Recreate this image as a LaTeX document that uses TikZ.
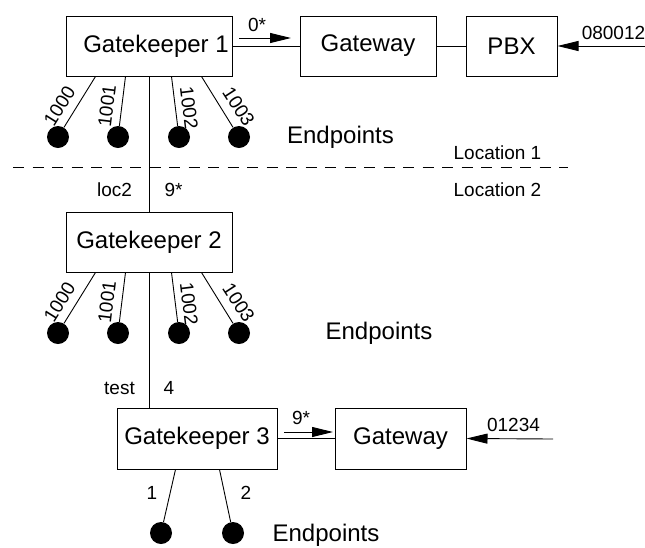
\documentclass[tikz,border=0pt]{standalone}
\usepackage{fontspec}
\setmainfont{Liberation Sans}
\usetikzlibrary{arrows.meta,calc}
\begin{document}
\begin{tikzpicture}[x=1pt,y=-1pt,
  box/.style={draw, line width=1pt, inner sep=0pt, font=\fontsize{24}{28}\selectfont},
  lbl/.style={inner sep=0pt, font=\fontsize{19}{22}\selectfont},
  big/.style={inner sep=0pt, font=\fontsize{24}{28}\selectfont},
  ep/.style={circle, fill=black, minimum size=22pt, inner sep=0pt},
  wire/.style={line width=0.9pt},
  flow/.style={line width=0.9pt, -{Triangle[length=21pt,width=10pt]}}]
\useasboundingbox (0,0) rectangle (645,547);

% ---- Location 1 ----
\node[box, minimum width=166pt, minimum height=60pt] (gk1) at (149,46) {\hspace*{14pt}Gatekeeper 1};
\node[box, minimum width=136pt, minimum height=60pt] (gw1) at (368,46) {Gateway};
\node[box, minimum width=91pt, minimum height=60pt] (pbx) at (511.5,46) {PBX};

\draw[wire] (gk1) -- (gw1);
\draw[wire] (gw1) -- (pbx);
\coordinate (a1s) at (239,38);
\coordinate (a1e) at (291,38);
\draw[flow] (a1s) -- (a1e);
\node[lbl] (l0) at (257,25) {0*};
\coordinate (in1) at (646,46);
\draw[flow] (in1) -- (pbx.east);
\node[lbl] (lin1) at (613.5,33) {080012};

% endpoints of gatekeeper 1
\foreach \i/\ox/\cx in {1/30/58, 2/60/118, 3/106/179, 4/136/239} {
  \coordinate (p1\i) at ($(gk1.south west)+(\ox,0)$);
  \node[ep] (e1\i) at (\cx,137) {};
  \draw[wire] (p1\i) -- (e1\i);
}
\node[lbl, rotate=58] (n11) at (59.5,106) {1000};
\node[lbl, rotate=83] (n12) at (107,106) {1001};
\node[lbl, rotate=-83] (n13) at (189,108) {1002};
\node[lbl, rotate=-57] (n14) at (238.5,106.5) {1003};
\node[big] (ept1) at (340.5,137) {Endpoints};

% ---- boundary between locations ----
\coordinate (d1) at (13,167);
\coordinate (d2) at (568,167);
\draw[wire, dash pattern=on 11pt off 8.5pt] (d1) -- (d2);
\node[lbl] (loc1) at (497.5,153) {Location 1};
\node[lbl] (loc2) at (497.5,190) {Location 2};

% ---- Location 2 ----
\node[box, minimum width=166pt, minimum height=60pt] (gk2) at (149,242) {Gatekeeper 2};
\draw[wire] (gk1.south) -- (gk2.north);
\node[lbl] (tloc2) at (114.5,190) {loc2};
\node[lbl] (t9) at (173.5,190) {9*};

\foreach \i/\ox/\cx in {1/30/58, 2/60/118, 3/106/179, 4/136/239} {
  \coordinate (p2\i) at ($(gk2.south west)+(\ox,0)$);
  \node[ep] (e2\i) at (\cx,333) {};
  \draw[wire] (p2\i) -- (e2\i);
}
\node[lbl, rotate=58] (n21) at (59.5,302) {1000};
\node[lbl, rotate=83] (n22) at (107,302) {1001};
\node[lbl, rotate=-83] (n23) at (189,304) {1002};
\node[lbl, rotate=-57] (n24) at (238.5,302.5) {1003};
\node[big] (ept2) at (379,333) {Endpoints};

\node[box, minimum width=160pt, minimum height=61pt] (gk3) at (197,438.5) {Gatekeeper 3};
\node[box, minimum width=131pt, minimum height=61pt] (gw2) at (400.5,438.5) {Gateway};
\draw[wire] (gk2.south) -- (gk2.south |- gk3.north);
\node[lbl] (ttest) at (119.5,388) {test};
\node[lbl] (t4) at (169,388) {4};

\draw[wire] (gk3) -- (gw2);
\coordinate (a2s) at (284,432);
\coordinate (a2e) at (333,432);
\draw[flow] (a2s) -- (a2e);
\node[lbl] (l9) at (301,418) {9*};
\coordinate (in2) at (553,439);
\draw[flow] (in2) -- (gw2.east);
\node[lbl] (lin2) at (513.5,425) {01234};

\coordinate (p31) at ($(gk3.south west)+(59,0)$);
\coordinate (p32) at ($(gk3.south west)+(103,0)$);
\node[ep] (e31) at (161,533) {};
\node[ep] (e32) at (233,533) {};
\draw[wire] (p31) -- (e31);
\draw[wire] (p32) -- (e32);
\node[lbl] (n31) at (152,493) {1};
\node[lbl] (n32) at (246,493) {2};
\node[big] (ept3) at (326,535) {Endpoints};
\end{tikzpicture}
\end{document}
